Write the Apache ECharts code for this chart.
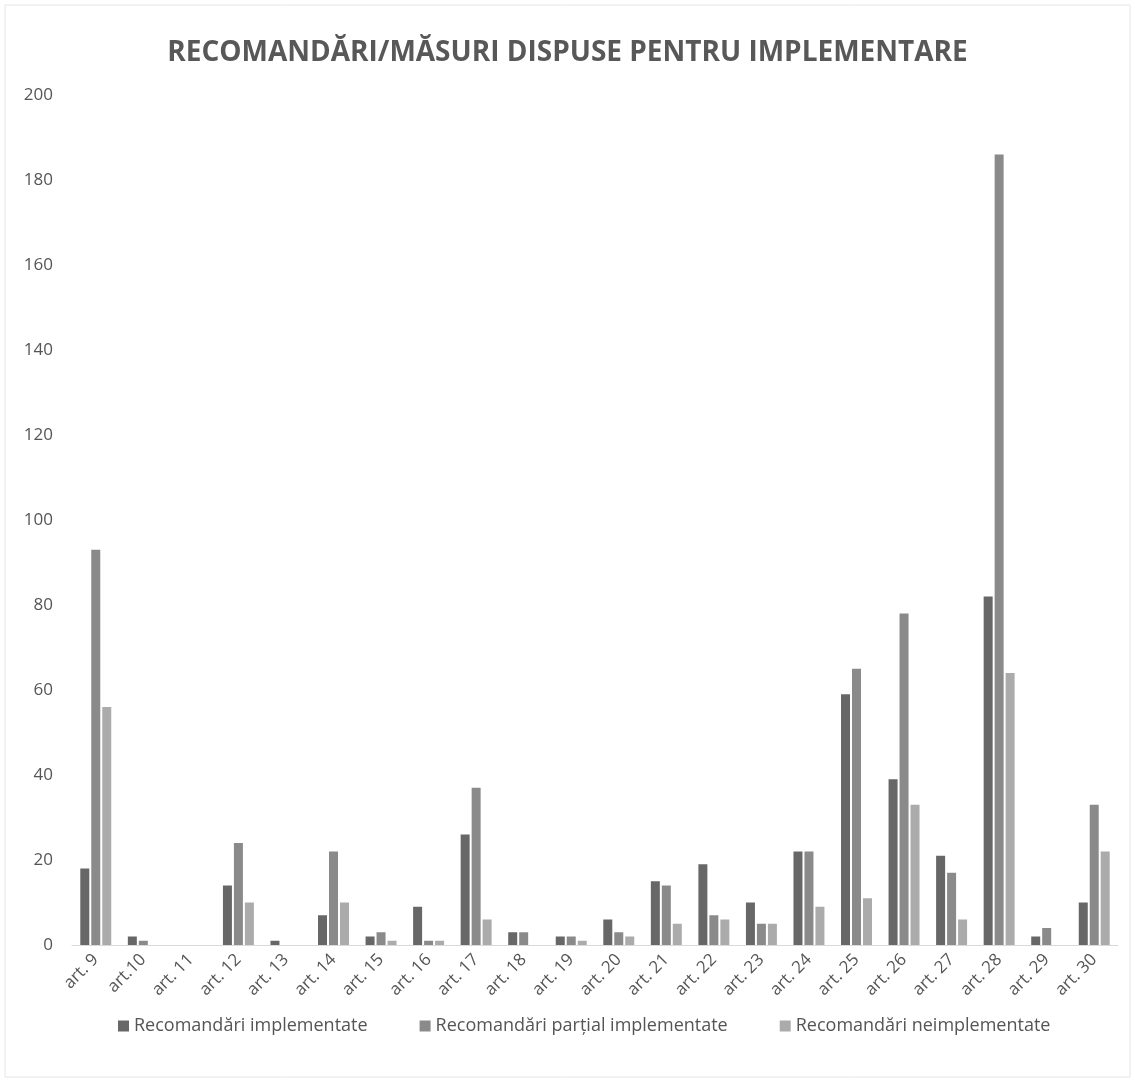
<!DOCTYPE html>
<html><head><meta charset="utf-8">
<script src="https://cdn.jsdelivr.net/npm/echarts@6/dist/echarts.min.js"></script>
<style>html,body{margin:0;padding:0;background:#fff}#c{width:1135px;height:1082px}</style>
</head><body><div id="c"></div>
<script>
const categories = ['art. 9','art.10','art. 11','art. 12','art. 13','art. 14','art. 15','art. 16','art. 17','art. 18','art. 19','art. 20','art. 21','art. 22','art. 23','art. 24','art. 25','art. 26','art. 27','art. 28','art. 29','art. 30'];
const implementate = [18,2,0,14,1,7,2,9,26,3,2,6,15,19,10,22,59,39,21,82,2,10];
const partial = [93,1,0,24,0,22,3,1,37,3,2,3,14,7,5,22,65,78,17,186,4,33];
const neimplementate = [56,0,0,10,0,10,1,1,6,0,1,2,5,6,5,9,11,33,6,64,0,22];
const seriesNames = ['Recomandări implementate','Recomandări parțial implementate','Recomandări neimplementate'];
const yTicks = {min:0,max:200,interval:20};

const chart = echarts.init(document.getElementById('c'));
const font = 'Open Sans';
function bar(name, data, color){
  return {name, type:'bar', data, barWidth:9, barGap:'22%', itemStyle:{color}};
}
chart.setOption({
  animation:false,
  graphic:[{type:'rect', shape:{x:5,y:5,width:1125,height:1072}, style:{fill:'none', stroke:'#e6e6e6', lineWidth:1}, silent:true}],
  title:{text:'RECOMANDĂRI/MĂSURI DISPUSE PENTRU IMPLEMENTARE', left:'center', top:34,
    textStyle:{fontFamily:font, fontWeight:'bold', fontSize:28, color:'#585858'}},
  grid:{left:72, right:17, top:95, bottom:137, containLabel:false},
  legend:{bottom:42, left:113, itemWidth:11, itemHeight:11, itemGap:52,
    icon:'rect', textStyle:{fontFamily:font, fontSize:18, color:'#555555'}},
  xAxis:{type:'category', data:categories,
    axisLine:{lineStyle:{color:'#d9d9d9'}}, axisTick:{show:false},
    axisLabel:{rotate:45, interval:0, fontFamily:font, fontSize:17, color:'#555555', margin:12}},
  yAxis:{type:'value', min:yTicks.min, max:yTicks.max, interval:yTicks.interval,
    axisLine:{show:false}, axisTick:{show:false},
    splitLine:{show:false},
    axisLabel:{fontFamily:font, fontSize:17, color:'#555555', margin:19}},
  series:[bar(seriesNames[0], implementate, '#676767'), bar(seriesNames[1], partial, '#8a8a8a'), bar(seriesNames[2], neimplementate, '#ababab')]
});
</script></body></html>
